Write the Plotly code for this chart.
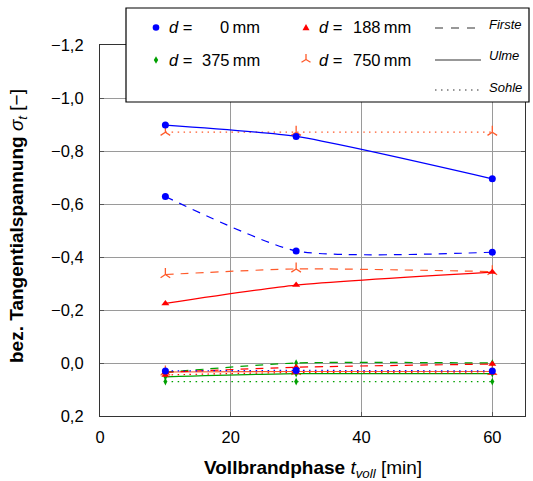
import plotly.graph_objects as go

# Vollbrandphase [min]
t_voll = [10, 30, 60]

# normalised tangential stress per depth d and location (Firste / Ulme / Sohle)
d0_firste = [-0.628, -0.423, -0.418]
d0_ulme = [-0.898, -0.855, -0.695]
d0_sohle = [0.030, 0.028, 0.030]

d188_firste = [0.035, 0.016, 0.004]
d188_ulme = [-0.225, -0.294, -0.343]
d188_sohle = [0.045, 0.036, 0.038]

d375_firste = [0.035, 0.000, 0.000]
d375_ulme = [0.052, 0.040, 0.040]
d375_sohle = [0.070, 0.070, 0.070]

d750_firste = [-0.334, -0.355, -0.345]
d750_ulme = [0.034, 0.032, 0.032]
d750_sohle = [-0.871, -0.871, -0.871]

y_ticks = [-1.2, -1.0, -0.8, -0.6, -0.4, -0.2, 0.0, 0.2]
y_ticktext = ["\u22121,2", "\u22121,0", "\u22120,8", "\u22120,6", "\u22120,4", "\u22120,2", "0,0", "0,2"]
x_ticks = [0, 20, 40, 60]

BLUE = "#0000ff"
RED = "#ff0000"
GREEN = "#00a000"
ORANGE = "#ff5a2a"
FONT = "Liberation Sans, Arial, Helvetica, sans-serif"

DASHED = "8px,7px"
DOTTED = "1.5px,4.5px"

# plot-area geometry in pixels (used for the hand-drawn legend box)
W, H = 533, 481
L, R, T, B = 100, 8, 45, 65
PW, PH = W - L - R, H - T - B


def px_x(p):
    return (p - L) / PW


def px_y(p):
    return (H - B - p) / PH


series = [
    # (values, colour, symbol, size, dash)
    (d750_sohle, ORANGE, "y-up", 8, DOTTED),
    (d750_firste, ORANGE, "y-up", 8, DASHED),
    (d750_ulme, ORANGE, "y-up", 8, "solid"),
    (d375_sohle, GREEN, "diamond-tall", 5.5, DOTTED),
    (d375_firste, GREEN, "diamond-tall", 5.5, DASHED),
    (d375_ulme, GREEN, "diamond-tall", 5.5, "solid"),
    (d188_sohle, RED, "triangle-up", 7, DOTTED),
    (d188_firste, RED, "triangle-up", 7, DASHED),
    (d188_ulme, RED, "triangle-up", 7, "solid"),
    (d0_sohle, BLUE, "circle", 7, DOTTED),
    (d0_firste, BLUE, "circle", 7, DASHED),
    (d0_ulme, BLUE, "circle", 7, "solid"),
]

fig = go.Figure()
for vals, col, sym, size, dash in series:
    open_sym = sym == "y-up"
    fig.add_trace(go.Scatter(
        x=t_voll, y=vals, mode="lines+markers",
        line=dict(color=col, width=1.2, dash=dash, shape="spline", smoothing=0.6),
        marker=dict(symbol=sym, size=size, color=col,
                    line=dict(color=col, width=1.3 if open_sym else 0)),
        showlegend=False, hoverinfo="skip",
    ))

axis_common = dict(
    showgrid=True, gridcolor="#9a9a9a", gridwidth=1,
    showline=True, linecolor="#333333", linewidth=1.2, mirror="ticks",
    ticks="inside", ticklen=4, tickcolor="#555555", tickwidth=1,
    zeroline=False,
    tickfont=dict(family=FONT, size=16.5, color="#000000"),
)

fig.update_xaxes(range=[0, 65], tickvals=x_ticks, ticklabelstandoff=6, **axis_common)
fig.update_yaxes(range=[0.2, -1.2], tickvals=y_ticks, ticktext=y_ticktext,
                 ticklabelstandoff=12, **axis_common)

shapes = []
annotations = []

# legend frame
shapes.append(dict(type="rect", xref="paper", yref="paper", layer="above",
                   x0=px_x(126), x1=px_x(529), y0=px_y(102), y1=px_y(8),
                   fillcolor="white", line=dict(color="#000000", width=1.2)))


def glyph(path, cx, cy, col, filled=True):
    d = dict(type="path", path=path, xref="paper", yref="paper", layer="above",
             xsizemode="pixel", ysizemode="pixel", xanchor=px_x(cx), yanchor=px_y(cy))
    if filled:
        d.update(fillcolor=col, line=dict(color=col, width=0))
    else:
        d.update(line=dict(color=col, width=1.3))
    return d


# legend glyphs
shapes.append(dict(type="circle", xref="paper", yref="paper", layer="above",
                   xsizemode="pixel", ysizemode="pixel",
                   xanchor=px_x(156), yanchor=px_y(27.5),
                   x0=-3.3, x1=3.3, y0=-3.3, y1=3.3,
                   fillcolor=BLUE, line=dict(color=BLUE, width=0)))
shapes.append(glyph("M-3.5,-2.8 L3.5,-2.8 L0,3.4 Z", 306, 27.5, RED))
shapes.append(glyph("M0,3.8 L2.2,0 L0,-3.8 L-2.2,0 Z", 156, 60, GREEN))
shapes.append(glyph("M0,0 L0,5.5 M0,0 L-4.5,-2.8 M0,0 L4.5,-2.8", 306, 59.5, ORANGE, filled=False))

# legend line-style samples
for y_px, x_end, dash in [(28, 476, "8px,8px"), (60, 481, "solid"), (90, 481, DOTTED)]:
    shapes.append(dict(type="line", xref="paper", yref="paper", layer="above",
                       x0=px_x(435), x1=px_x(x_end), y0=px_y(y_px), y1=px_y(y_px),
                       line=dict(color="#333333", width=1.1, dash=dash)))

leg_font = dict(family=FONT, size=16.5, color="#000000")
for xd, xnum, y_px, num in [(167, 262, 27.5, "0"), (167, 262, 60, "375"),
                            (317, 413, 27.5, "188"), (317, 413, 60, "750")]:
    annotations.append(dict(xref="paper", yref="paper", x=px_x(xd), y=px_y(y_px),
                            xanchor="left", yanchor="middle", showarrow=False,
                            text="<i>d</i> =", font=leg_font))
    annotations.append(dict(xref="paper", yref="paper", x=px_x(xnum), y=px_y(y_px),
                            xanchor="right", yanchor="middle", showarrow=False,
                            text=num + "\u2009mm", font=leg_font))

for y_px, label in [(24, "Firste"), (55.5, "Ulme"), (87, "Sohle")]:
    annotations.append(dict(xref="paper", yref="paper", x=px_x(487), y=px_y(y_px),
                            xanchor="left", yanchor="middle", showarrow=False,
                            text="<i>" + label + "</i>",
                            font=dict(family=FONT, size=13, color="#000000")))

# axis titles
annotations.append(dict(xref="paper", yref="paper", x=px_x(18), y=px_y(226),
                        xanchor="center", yanchor="middle", showarrow=False, textangle=-90,
                        text="<b>bez. Tangentialspannung</b> <i>\u03c3<sub>t</sub></i> [\u2212]",
                        font=dict(family=FONT, size=19, color="#000000")))
annotations.append(dict(xref="paper", yref="paper", x=px_x(313), y=px_y(469),
                        xanchor="center", yanchor="middle", showarrow=False,
                        text="<b>Vollbrandphase</b> <i>t<sub>voll</sub></i> [min]",
                        font=dict(family=FONT, size=19, color="#000000")))

fig.update_layout(
    width=W, height=H,
    margin=dict(l=L, r=R, t=T, b=B, pad=0),
    plot_bgcolor="white", paper_bgcolor="white",
    showlegend=False,
    shapes=shapes, annotations=annotations,
    font=dict(family=FONT),
)

fig.write_html("out.html")
